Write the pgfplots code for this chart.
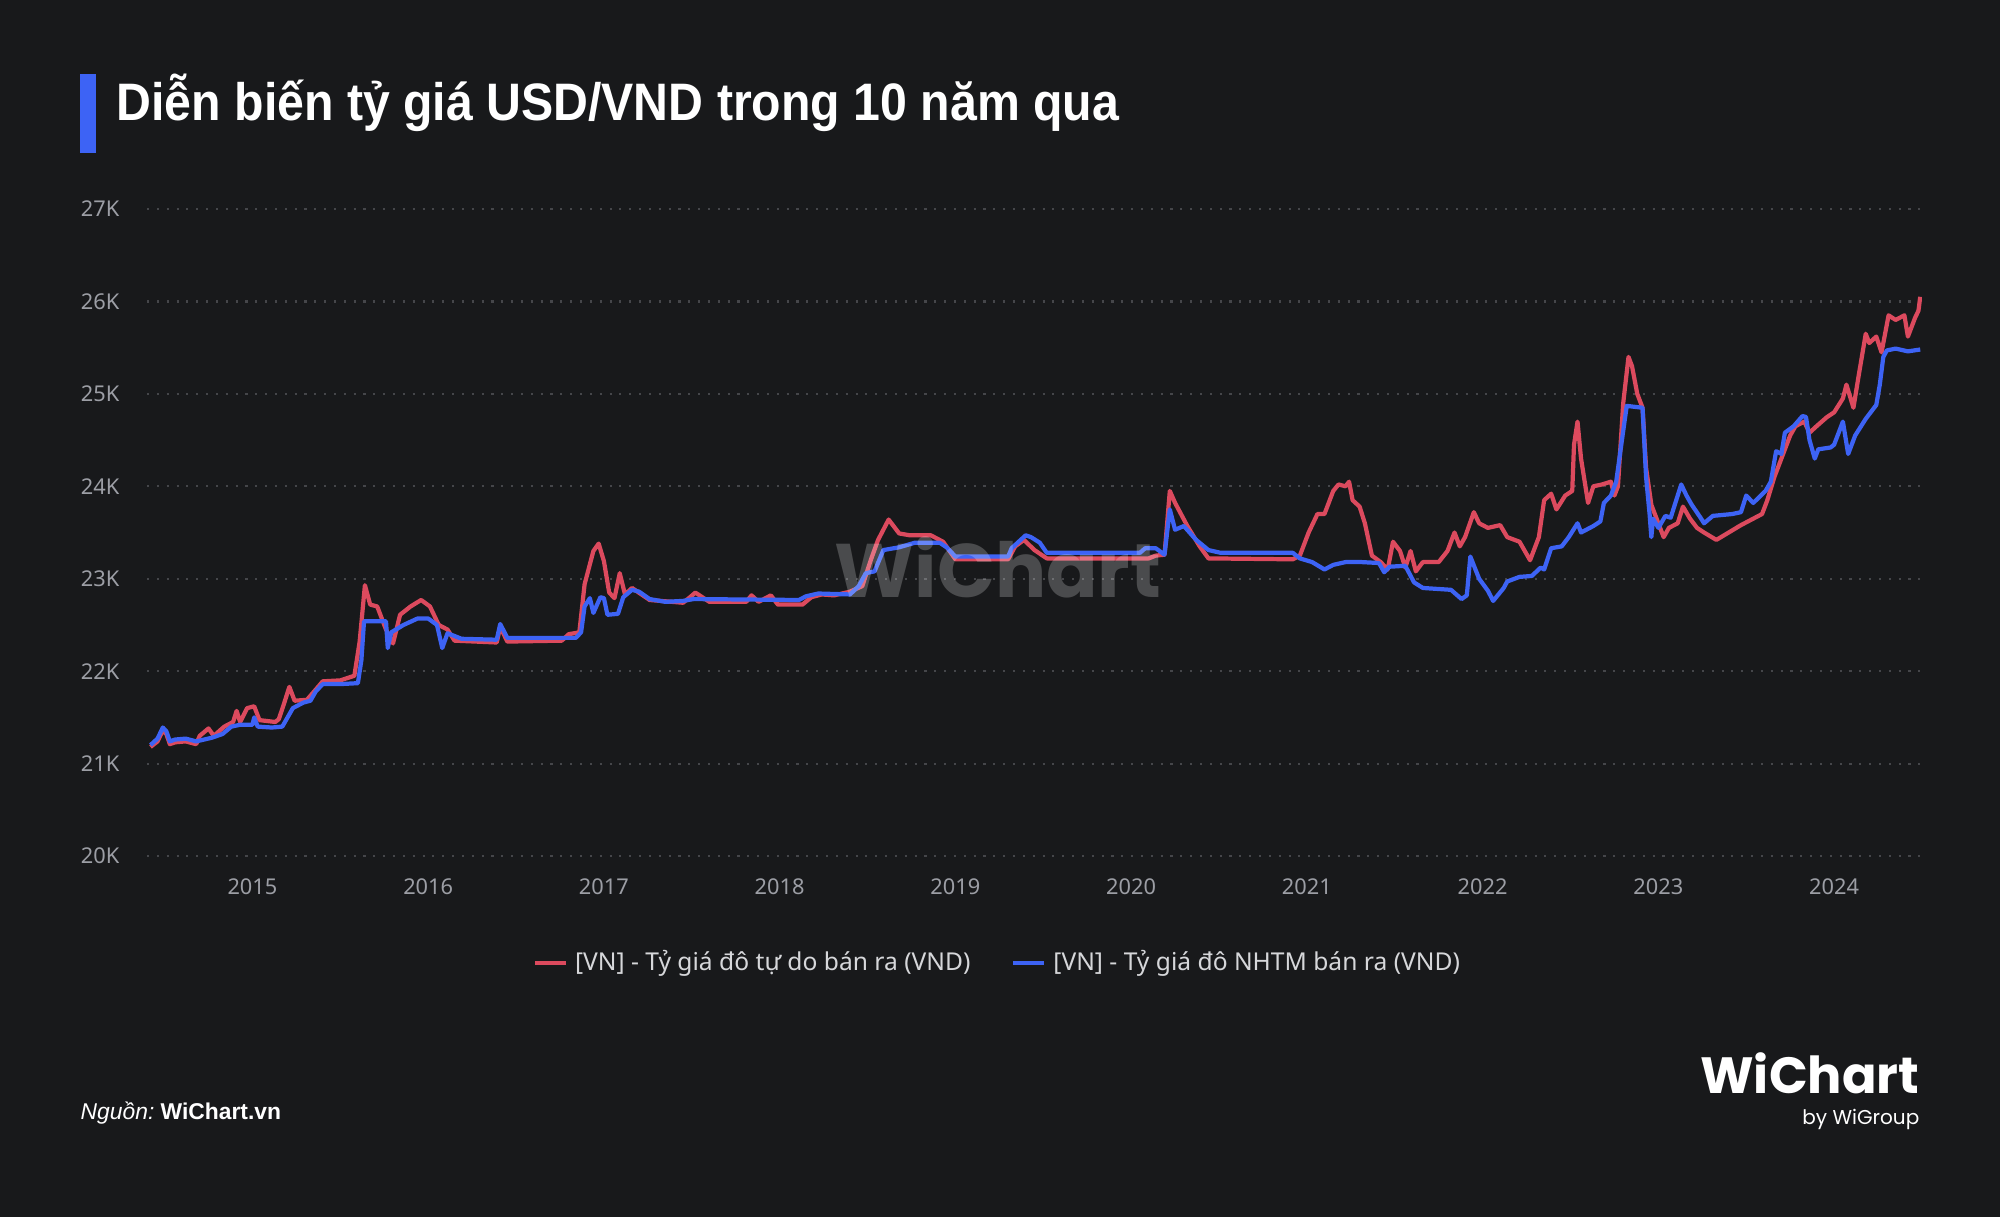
\documentclass[border=0pt]{standalone}
\usepackage{pgfplots}
\pgfplotsset{compat=1.18}
\usepackage{graphicx}
\usepackage{fontspec}
\setmainfont{Noto Sans}
\newfontfamily\titlefont{Liberation Sans}
\newfontfamily\poppins{Poppins}
\definecolor{bg}{HTML}{18191B}
\definecolor{redl}{HTML}{DC4A5E}
\definecolor{bluel}{HTML}{3D63F5}
\definecolor{gridc}{HTML}{45464A}
\definecolor{tickc}{HTML}{9C9EA5}
\definecolor{legc}{HTML}{D6D7DA}

\pgfplotstableread{
t v
2014.42 21180
2014.46 21240
2014.49 21360
2014.51 21320
2014.53 21210
2014.56 21230
2014.62 21240
2014.68 21210
2014.70 21300
2014.75 21380
2014.78 21300
2014.84 21400
2014.89 21450
2014.91 21570
2014.93 21450
2014.97 21600
2015.01 21620
2015.04 21470
2015.13 21450
2015.15 21480
2015.18 21650
2015.21 21830
2015.24 21680
2015.31 21690
2015.36 21800
2015.40 21890
2015.50 21900
2015.58 21950
2015.61 22320
2015.64 22930
2015.67 22720
2015.71 22700
2015.76 22450
2015.80 22300
2015.84 22610
2015.90 22700
2015.96 22770
2016.01 22700
2016.06 22500
2016.11 22450
2016.15 22330
2016.39 22310
2016.41 22480
2016.45 22320
2016.76 22330
2016.80 22400
2016.86 22420
2016.89 22940
2016.94 23300
2016.97 23380
2017.00 23190
2017.03 22850
2017.06 22790
2017.09 23060
2017.12 22830
2017.16 22900
2017.26 22770
2017.45 22740
2017.49 22800
2017.52 22850
2017.60 22750
2017.81 22750
2017.84 22820
2017.88 22750
2017.95 22820
2017.99 22720
2018.13 22720
2018.18 22800
2018.24 22830
2018.31 22820
2018.40 22860
2018.47 22920
2018.52 23210
2018.56 23420
2018.62 23640
2018.68 23490
2018.74 23470
2018.86 23470
2018.93 23400
2019.00 23210
2019.30 23210
2019.34 23350
2019.39 23420
2019.45 23310
2019.52 23220
2020.10 23220
2020.14 23250
2020.19 23260
2020.22 23950
2020.25 23820
2020.32 23570
2020.39 23350
2020.44 23220
2020.92 23210
2020.96 23250
2021.01 23500
2021.06 23700
2021.10 23700
2021.15 23950
2021.18 24020
2021.22 24000
2021.24 24050
2021.26 23850
2021.30 23780
2021.33 23600
2021.37 23250
2021.42 23180
2021.46 23100
2021.49 23400
2021.53 23300
2021.56 23120
2021.59 23300
2021.62 23080
2021.66 23180
2021.75 23180
2021.80 23300
2021.84 23500
2021.87 23350
2021.90 23450
2021.95 23720
2021.98 23600
2022.03 23550
2022.10 23580
2022.14 23450
2022.21 23400
2022.27 23200
2022.32 23450
2022.35 23850
2022.39 23920
2022.42 23750
2022.47 23900
2022.51 23950
2022.52 24450
2022.54 24700
2022.56 24300
2022.60 23820
2022.63 24000
2022.68 24020
2022.73 24050
2022.75 23900
2022.77 24000
2022.80 24900
2022.83 25400
2022.85 25300
2022.88 25000
2022.91 24850
2022.93 24200
2022.96 23800
2022.99 23650
2023.03 23450
2023.06 23550
2023.11 23600
2023.14 23780
2023.18 23650
2023.22 23550
2023.26 23500
2023.33 23420
2023.40 23500
2023.47 23580
2023.54 23650
2023.59 23700
2023.62 23850
2023.66 24100
2023.70 24300
2023.75 24550
2023.78 24650
2023.83 24700
2023.86 24580
2023.90 24650
2023.96 24750
2024.00 24800
2024.05 24950
2024.07 25100
2024.11 24850
2024.14 25200
2024.18 25650
2024.20 25550
2024.24 25620
2024.27 25450
2024.31 25850
2024.35 25800
2024.40 25850
2024.42 25620
2024.46 25820
2024.48 25900
2024.49 26050
}\redtable

\pgfplotstableread{
t v
2014.42 21200
2014.46 21270
2014.49 21390
2014.51 21350
2014.53 21240
2014.56 21260
2014.62 21270
2014.68 21240
2014.77 21280
2014.83 21320
2014.88 21400
2014.93 21420
2015.00 21420
2015.01 21500
2015.03 21400
2015.11 21390
2015.17 21400
2015.20 21500
2015.23 21600
2015.29 21660
2015.33 21680
2015.36 21780
2015.40 21860
2015.50 21860
2015.60 21870
2015.62 22120
2015.635 22540
2015.76 22540
2015.77 22250
2015.79 22420
2015.86 22500
2015.94 22570
2016.00 22570
2016.05 22500
2016.08 22250
2016.11 22410
2016.19 22350
2016.39 22340
2016.41 22510
2016.45 22360
2016.84 22360
2016.87 22420
2016.89 22700
2016.92 22790
2016.94 22630
2016.98 22800
2017.00 22790
2017.02 22610
2017.08 22620
2017.11 22800
2017.16 22880
2017.20 22860
2017.26 22780
2017.35 22750
2017.45 22760
2017.51 22780
2018.11 22770
2018.15 22810
2018.22 22840
2018.40 22830
2018.45 22920
2018.49 23060
2018.54 23080
2018.59 23310
2018.68 23340
2018.77 23390
2018.91 23390
2018.95 23340
2019.00 23240
2019.30 23240
2019.32 23330
2019.40 23470
2019.43 23450
2019.48 23390
2019.52 23280
2020.05 23280
2020.08 23330
2020.14 23330
2020.19 23260
2020.22 23750
2020.25 23530
2020.30 23570
2020.37 23420
2020.44 23310
2020.51 23280
2020.92 23280
2020.96 23220
2021.03 23180
2021.10 23100
2021.15 23150
2021.22 23180
2021.31 23180
2021.41 23170
2021.44 23070
2021.47 23130
2021.56 23140
2021.61 22960
2021.66 22900
2021.82 22880
2021.88 22780
2021.91 22820
2021.93 23240
2021.98 23000
2022.03 22870
2022.06 22760
2022.12 22900
2022.14 22970
2022.21 23020
2022.28 23030
2022.33 23120
2022.35 23100
2022.39 23330
2022.45 23350
2022.49 23450
2022.54 23600
2022.56 23500
2022.63 23570
2022.67 23620
2022.69 23820
2022.73 23900
2022.76 24050
2022.80 24600
2022.82 24870
2022.91 24850
2022.93 24100
2022.95 23700
2022.96 23450
2022.97 23650
2023.00 23550
2023.04 23680
2023.07 23660
2023.13 24020
2023.16 23900
2023.19 23800
2023.24 23660
2023.26 23600
2023.31 23680
2023.42 23700
2023.47 23720
2023.50 23900
2023.54 23820
2023.61 23950
2023.64 24050
2023.67 24380
2023.70 24350
2023.72 24580
2023.77 24650
2023.82 24760
2023.84 24750
2023.86 24500
2023.89 24300
2023.91 24400
2023.98 24420
2024.00 24450
2024.05 24700
2024.08 24350
2024.12 24550
2024.18 24730
2024.24 24880
2024.26 25100
2024.28 25400
2024.30 25470
2024.35 25490
2024.42 25460
2024.49 25480
}\bluetable

\begin{document}
\begin{tikzpicture}
\begin{scope}[x=0.1mm,y=0.1mm]
\fill[bg] (0,0) rectangle (2000,1217);
\fill[bluel] (80,1064) rectangle (96,1143);
\node[anchor=base west, inner sep=0pt, text=white] at (116,1096)
  {\scalebox{0.915}[1]{\fontsize{15pt}{18pt}\selectfont\titlefont\bfseries Diễn biến tỷ giá USD/VND trong 10 năm qua}};
\end{scope}

\begin{axis}[
  at={(14.7mm,36.1mm)}, anchor=south west,
  width=177.5mm, height=64.7mm, scale only axis,
  xmin=2014.40, xmax=2024.50, ymin=20000, ymax=27000,
  scaled y ticks=false, scaled x ticks=false,
  axis line style={draw=none},
  major tick length=0pt,
  ymajorgrids, 
  grid style={gridc, line width=0.6pt, dash pattern=on 0.6pt off 2.2pt},
  ytick={20000,21000,22000,23000,24000,25000,26000,27000},
  yticklabels={20K,21K,22K,23K,24K,25K,26K,27K},
  xtick={2015,2016,2017,2018,2019,2020,2021,2022,2023,2024},
  xticklabels={2015,2016,2017,2018,2019,2020,2021,2022,2023,2024},
  /pgf/number format/assume math mode=true,
  yticklabel style={font=\fontsize{6.2pt}{7pt}\selectfont, text=tickc, inner sep=0pt, anchor=east, xshift=-2.7mm},
  xticklabel style={font=\fontsize{6.2pt}{7pt}\selectfont, text=tickc, inner sep=0pt, anchor=north, yshift=-2.2mm},
  legend columns=2,
  legend style={at={(0.4806,-0.165)}, anchor=center, draw=none, fill=none,
    text=legc, font=\fontsize{7pt}{8.5pt}\selectfont,
    /tikz/every even column/.append style={column sep=3.4mm}},
  legend image code/.code={\draw[line width=1.1pt] (0mm,0mm) -- (3.1mm,0mm);},
]
\addplot[redl, line width=1.2pt, line join=round] table[x=t,y=v] {\redtable};
\addlegendentry{[VN] - Tỷ giá đô tự do bán ra (VND)}
\addplot[bluel, line width=1.2pt, line join=round] table[x=t,y=v] {\bluetable};
\addlegendentry{[VN] - Tỷ giá đô NHTM bán ra (VND)}
\end{axis}

\begin{scope}[x=0.1mm,y=0.1mm]
\node[anchor=center, inner sep=0pt, text=white, opacity=0.22] at (998,650)
  {\fontsize{21.6pt}{24pt}\selectfont\poppins\bfseries WiChart};
\node[anchor=base west, inner sep=0pt, text=white] at (80,97)
  {\fontsize{6.5pt}{8pt}\selectfont\titlefont\itshape Nguồn:\upshape\bfseries\ WiChart.vn};
\node[anchor=base east, inner sep=0pt, text=white] at (1920,123)
  {\fontsize{14.5pt}{16pt}\selectfont\poppins\bfseries WiChart};
\node[anchor=base east, inner sep=0pt, text=white] at (1920,92)
  {\fontsize{5.7pt}{7pt}\selectfont\poppins by WiGroup};
\end{scope}
\end{tikzpicture}
\end{document}
